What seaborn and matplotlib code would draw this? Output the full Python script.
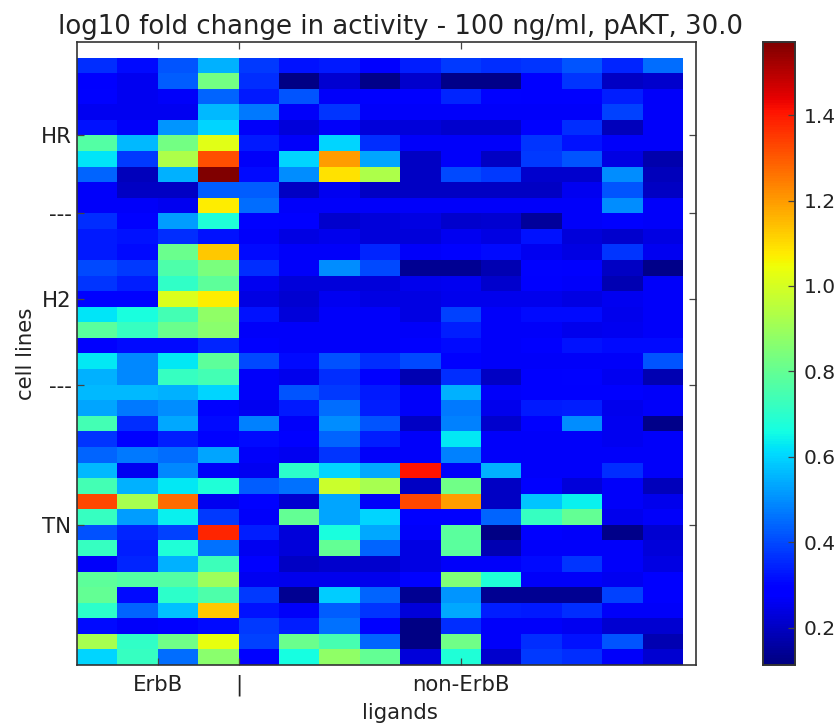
import numpy as np
import pandas as pd
import matplotlib
matplotlib.use("Agg")
import matplotlib.pyplot as plt
import seaborn as sns

rows_a = [
 [.36,.31,.42,.55,.38,.32,.33,.28,.34,.38,.36,.37,.42,.35,.45],
 [.28,.26,.43,.83,.36,.12,.22,.13,.21,.13,.13,.29,.37,.20,.21],
 [.30,.26,.27,.44,.33,.42,.27,.29,.28,.35,.30,.28,.29,.34,.27],
 [.26,.26,.26,.56,.47,.27,.37,.27,.27,.27,.27,.27,.27,.39,.27],
 [.32,.27,.51,.60,.27,.23,.27,.23,.23,.21,.21,.30,.36,.19,.27],
 [.77,.56,.83,1.02,.33,.27,.60,.36,.27,.27,.27,.37,.32,.27,.27],
 [.62,.38,.93,1.32,.27,.60,1.20,.53,.20,.27,.20,.38,.42,.24,.17],
 [.44,.19,.55,1.57,.31,.50,1.09,.93,.20,.40,.38,.21,.21,.50,.19],
 [.27,.20,.20,.43,.43,.20,.26,.20,.20,.20,.20,.20,.26,.42,.20],
 [.27,.27,.26,1.07,.45,.27,.27,.27,.27,.27,.27,.27,.27,.50,.27],
]
rows_b = [
 [.36,.30,.52,.68,.30,.28,.21,.23,.24,.21,.22,.15,.27,.29,.27],
 [.33,.32,.36,.32,.27,.24,.25,.23,.23,.26,.24,.32,.23,.21,.24],
 [.33,.31,.81,1.13,.31,.27,.27,.35,.27,.30,.31,.26,.24,.37,.26],
 [.40,.38,.76,.84,.36,.27,.50,.40,.14,.14,.18,.30,.29,.20,.13],
 [.37,.34,.71,.79,.26,.23,.23,.23,.25,.26,.21,.28,.27,.18,.27],
 [.30,.30,1.01,1.07,.24,.22,.26,.24,.24,.25,.25,.25,.24,.26,.27],
 [.62,.67,.74,.88,.32,.23,.27,.27,.24,.39,.27,.31,.31,.25,.27],
 [.78,.72,.81,.87,.27,.27,.27,.27,.27,.34,.27,.27,.25,.26,.27],
 [.28,.31,.31,.35,.28,.27,.27,.27,.29,.31,.27,.29,.32,.31,.31],
 [.63,.49,.63,.79,.40,.31,.41,.36,.40,.29,.27,.27,.27,.27,.42],
 [.55,.49,.72,.74,.27,.25,.36,.28,.18,.36,.20,.29,.30,.26,.18],
]
rows_c = [
 [.56,.56,.55,.60,.27,.42,.38,.33,.27,.55,.27,.29,.29,.29,.27],
 [.53,.47,.50,.30,.26,.33,.45,.34,.27,.47,.25,.33,.34,.25,.27],
 [.74,.36,.54,.31,.48,.27,.50,.42,.20,.48,.21,.28,.50,.26,.13],
 [.37,.28,.34,.30,.31,.29,.44,.34,.27,.63,.27,.27,.27,.26,.27],
 [.44,.47,.45,.53,.27,.26,.37,.27,.27,.48,.27,.27,.27,.27,.27],
 [.56,.26,.49,.27,.26,.70,.60,.54,1.41,.27,.55,.27,.27,.36,.27],
 [.74,.55,.63,.68,.43,.46,.98,.92,.20,.82,.20,.29,.23,.27,.19],
 [1.33,.92,1.27,.26,.30,.22,.53,.27,1.33,1.20,.20,.58,.64,.27,.25],
 [.72,.52,.64,.38,.27,.80,.53,.60,.29,.29,.44,.72,.80,.25,.27],
]
rows_d = [
 [.41,.35,.39,1.38,.34,.23,.67,.54,.27,.78,.12,.28,.27,.13,.22],
 [.72,.34,.68,.46,.26,.23,.80,.44,.24,.78,.18,.27,.27,.27,.23],
 [.27,.35,.55,.73,.28,.20,.21,.21,.24,.27,.27,.31,.37,.27,.24],
 [.79,.77,.77,.90,.26,.25,.25,.25,.30,.85,.68,.27,.27,.26,.29],
 [.80,.31,.70,.76,.38,.14,.59,.44,.14,.51,.14,.14,.14,.39,.28],
 [.70,.44,.57,1.13,.32,.27,.43,.37,.23,.54,.34,.33,.36,.27,.27],
 [.31,.27,.29,.31,.38,.34,.46,.28,.12,.36,.27,.27,.26,.22,.22],
 [.92,.71,.82,1.03,.39,.81,.75,.44,.12,.82,.27,.36,.32,.42,.18],
 [.60,.72,.45,.87,.30,.66,.88,.80,.23,.68,.21,.38,.36,.27,.22],
]
x_labels = ["ErbB", "|", "non-ErbB"]
x_positions = [2, 4, 9.5]
y_labels = ["HR", "---", "H2", "---", "TN"]
y_positions = [5, 10, 15.5, 21, 30]
cbar_ticks = [0.2, 0.4, 0.6, 0.8, 1.0, 1.2, 1.4]
title = "log10 fold change in activity - 100 ng/ml, pAKT, 30.0"

W, H = 837, 723
df = pd.DataFrame(rows_a + rows_b + rows_c + rows_d)

fig = plt.figure(figsize=(W / 100, H / 100), dpi=100)
ax = fig.add_axes([77 / W, 1 - 665 / H, (696 - 77) / W, (665 - 42) / H])
cax = fig.add_axes([763 / W, 1 - 665 / H, (795 - 763) / W, (665 - 42) / H])

sns.heatmap(df, ax=ax, cbar_ax=cax, cmap="jet", vmin=0.113, vmax=1.571,
            xticklabels=False, yticklabels=False, linewidths=0,
            cbar_kws={"ticks": cbar_ticks})
ax.set_xlim(0, 15.32)
ax.set_ylim(39, -1)
ax.set_xticks(x_positions)
ax.set_xticklabels(x_labels, fontsize=15.3, color="#222222")
ax.set_yticks(y_positions)
ax.set_yticklabels(y_labels, fontsize=15.3, rotation=0, color="#222222")
ax.tick_params(axis="both", direction="in", length=5, width=0.9, top=True, right=True,
               color="#444444")
ax.tick_params(axis="x", pad=7)
ax.tick_params(axis="y", pad=4)
for s in ax.spines.values():
    s.set_visible(True)
    s.set_linewidth(1.2)
    s.set_color("#333333")
ax.set_xlabel("ligands", fontsize=15.3, labelpad=5, color="#222222", x=0.522)
ax.set_ylabel("cell lines", fontsize=15.3, labelpad=3.5, color="#222222")
ax.set_title(title, fontsize=18.75, pad=5.5, color="#222222", x=0.523)

cax.tick_params(direction="in", length=5, width=0.9, labelsize=14.5, pad=6.5,
                color="#444444", labelcolor="#222222")
for s in cax.spines.values():
    s.set_visible(True)
    s.set_linewidth(1.2)
    s.set_color("#333333")

fig.savefig("out.png", dpi=100)
